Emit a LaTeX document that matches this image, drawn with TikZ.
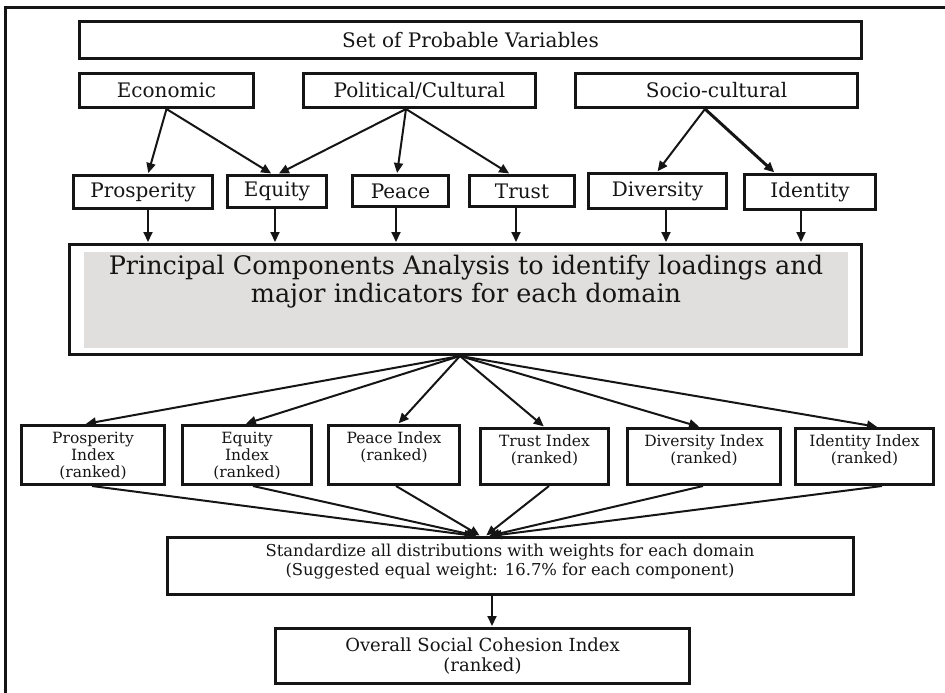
\documentclass[tikz,border=0pt]{standalone}
\usepackage{fontspec}
\setmainfont{DejaVu Serif}
\usetikzlibrary{arrows.meta}
\definecolor{ink}{HTML}{151515}
\definecolor{pcagray}{HTML}{E0DFDD}
\begin{document}
\begin{tikzpicture}[x=1pt,y=-1pt,
  box/.style={draw=ink, line width=3pt, inner sep=0pt, text=ink, align=center},
  lbl/.style={box, font=\fontsize{20}{23}\selectfont},
  idx/.style={box, minimum height=57pt},
  idxtext/.style={text=ink, inner sep=0pt, align=center, anchor=north, font=\fontsize{15.5}{17}\selectfont},
  arr/.style={draw=ink, line width=2pt, -{Triangle[length=10pt,width=9pt]}, shorten >=1pt},
  ln/.style={draw=ink, line width=2pt}
]
\useasboundingbox (0,0) rectangle (945,693);
% outer frame
\draw[ink, line width=3pt] (5,720) -- (5,8) -- (960,8);

% top box
\node[lbl, minimum width=782pt, minimum height=37pt] (set) at (470.5,40) {Set of Probable Variables};
% domains
\node[lbl, minimum width=174pt, minimum height=34pt] (econ) at (166.5,90.5) {Economic};
\node[lbl, minimum width=232pt, minimum height=34pt] (pol) at (419.5,90.5) {Political/Cultural};
\node[lbl, minimum width=282pt, minimum height=34pt] (soc) at (716.5,90.5) {Socio-cultural};
% sub domains
\node[lbl, minimum width=139pt, minimum height=33pt] (pros) at (143,192) {Prosperity};
\node[lbl, minimum width=99pt, minimum height=32pt] (equ) at (277,191.5) {Equity};
\node[lbl, minimum width=96pt, minimum height=31pt] (pea) at (400.5,191) {Peace};
\node[lbl, minimum width=105pt, minimum height=31pt] (tru) at (522,191) {Trust};
\node[lbl, minimum width=138pt, minimum height=35pt] (div) at (657.5,191) {Diversity};
\node[lbl, minimum width=131pt, minimum height=35pt] (ide) at (810,192) {Identity};

% PCA
\fill[pcagray] (84,252) rectangle (848,348);
\node[box, minimum width=792pt, minimum height=110pt] (pca) at (465.5,299.5) {};
\node[text=ink, inner sep=0pt, align=center, anchor=north, font=\fontsize{25.5}{27.5}\selectfont] (pcat) at (466,255)
  {Principal Components Analysis to identify loadings and\\major indicators for each domain};

% index boxes
\node[idx, minimum width=143pt, minimum height=59pt] (pi) at (93,455) {};
\node[idx, minimum width=129pt, minimum height=59pt] (ei) at (247,455) {};
\node[idx, minimum width=131pt, minimum height=59pt] (peai) at (394,455) {};
\node[idx, minimum width=128pt, minimum height=56pt] (ti) at (544.5,456.5) {};
\node[idx, minimum width=153pt, minimum height=56pt] (di) at (704,456.5) {};
\node[idx, minimum width=138pt, minimum height=56pt] (ii) at (864.5,456.5) {};
\node[idxtext] (pit) at (93,432) {Prosperity\\Index\\(ranked)};
\node[idxtext] (eit) at (247,432) {Equity\\Index\\(ranked)};
\node[idxtext] (peait) at (394,432) {Peace Index\\(ranked)};
\node[idxtext] (tit) at (544.5,435) {Trust Index\\(ranked)};
\node[idxtext] (dit) at (704,435) {Diversity Index\\(ranked)};
\node[idxtext] (iit) at (864.5,435) {Identity Index\\(ranked)};

% standardize
\node[box, minimum width=686pt, minimum height=57pt] (std) at (510.5,566) {};
\node[text=ink, inner sep=0pt, align=center, anchor=north, font=\fontsize{16.4}{18.5}\selectfont] (stdt) at (510,544)
  {Standardize all distributions with weights for each domain\\(Suggested equal weight: 16.7\% for each component)};
% overall
\node[box, minimum width=414pt, minimum height=55pt, font=\fontsize{18}{19.5}\selectfont] (ovr) at (482.5,656)
  {Overall Social Cohesion Index\\(ranked)};

% arrows: domains -> subdomains
\draw[arr] (econ.south) -- ([xshift=5pt]pros.north);
\draw[arr] (econ.south) -- ([xshift=-5pt]equ.north);
\draw[arr] ([xshift=-13.5pt]pol.south) -- ([xshift=1pt]equ.north);
\draw[arr] ([xshift=-13.5pt]pol.south) -- ([xshift=-3.5pt]pea.north);
\draw[arr] ([xshift=-13.5pt]pol.south) -- ([xshift=-12pt]tru.north);
\draw[arr] ([xshift=-11.5pt]soc.south) -- ([xshift=-0.5pt]div.north);
\draw[arr, line width=3pt] ([xshift=-11.5pt]soc.south) -- ([xshift=-35pt]ide.north);

% subdomains -> PCA
\draw[arr] ([xshift=5pt]pros.south) -- ([xshift=5pt]pros.south |- pca.north);
\draw[arr] ([xshift=-2pt]equ.south) -- ([xshift=-2pt]equ.south |- pca.north);
\draw[arr] ([xshift=-4.5pt]pea.south) -- ([xshift=-4.5pt]pea.south |- pca.north);
\draw[arr] ([xshift=-6pt]tru.south) -- ([xshift=-6pt]tru.south |- pca.north);
\draw[arr] ([xshift=8.5pt]div.south) -- ([xshift=8.5pt]div.south |- pca.north);
\draw[arr] ([xshift=-9pt]ide.south) -- ([xshift=-9pt]ide.south |- pca.north);

% PCA -> indices
\coordinate (pcs) at ([xshift=-5.5pt]pca.south);
\draw[arr] (pcs) -- ([xshift=-8pt]pi.north);
\draw[arr] (pcs) -- ([xshift=-2pt]ei.north);
\draw[arr] (pcs) -- ([xshift=4pt]peai.north);
\draw[arr] (pcs) -- (ti.north);
\draw[arr] (pcs) -- ([xshift=-4pt]di.north);
\draw[arr] (pcs) -- ([xshift=13.5pt]ii.north);

% indices -> standardize
\draw[arr] ([xshift=-1pt]pi.south) -- ([xshift=-35pt]std.north);
\draw[arr] ([xshift=6pt]ei.south) -- ([xshift=-33pt]std.north);
\draw[arr] ([xshift=2pt]peai.south) -- ([xshift=-30pt]std.north);
\draw[arr] ([xshift=4.5pt]ti.south) -- ([xshift=-25pt]std.north);
\draw[arr] ([xshift=-1pt]di.south) -- ([xshift=-22pt]std.north);
\draw[arr] ([xshift=17.5pt]ii.south) -- ([xshift=-20pt]std.north);

% standardize -> overall
\draw[arr] ([xshift=-18.5pt]std.south) -- ([xshift=-18.5pt]std.south |- ovr.north);
\end{tikzpicture}
\end{document}
